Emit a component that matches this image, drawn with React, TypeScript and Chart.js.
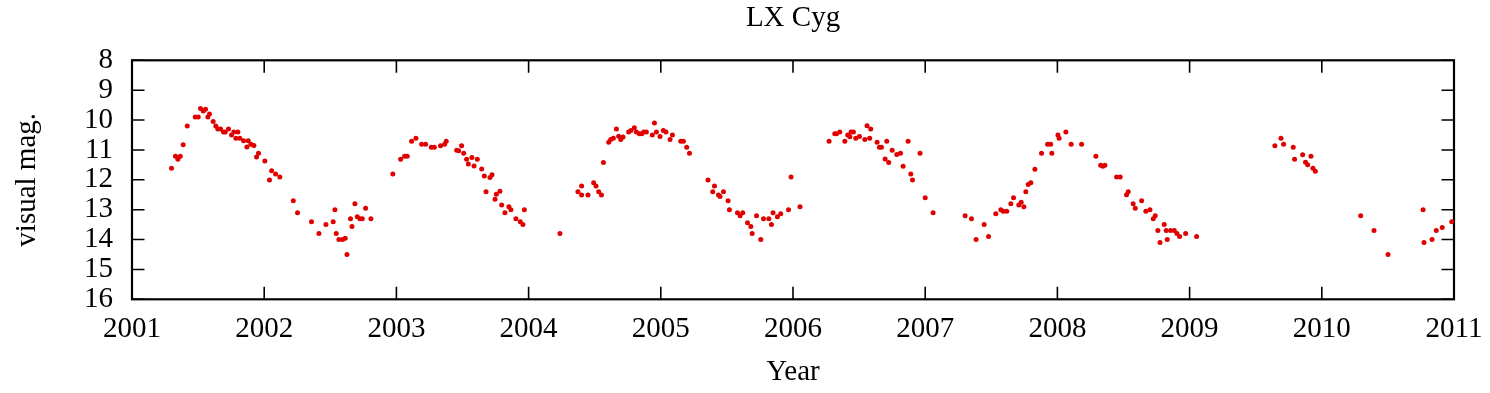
import React, { useEffect, useRef } from "react";
import { Chart, registerables } from "chart.js";

Chart.register(...registerables);

const chartTitle = "LX Cyg";
const xAxisTitle = "Year";
const yAxisTitle = "visual mag.";

const yearTicks = [2001, 2002, 2003, 2004, 2005, 2006, 2007, 2008, 2009, 2010, 2011];
const magTicks = [8, 9, 10, 11, 12, 13, 14, 15, 16];

// observation dates (decimal years)
const obsYears = [
  2001.299, 2001.329, 2001.347, 2001.365, 2001.387, 2001.418, 2001.478, 2001.501, 2001.518, 2001.539,
  2001.556, 2001.574, 2001.586, 2001.614, 2001.634, 2001.649, 2001.670, 2001.692, 2001.705, 2001.730,
  2001.753, 2001.770, 2001.786, 2001.801, 2001.816, 2001.844, 2001.869, 2001.879, 2001.899, 2001.922,
  2001.942, 2001.957, 2002.005, 2002.040, 2002.056, 2002.086, 2002.118, 2002.220, 2002.252, 2002.358,
  2002.414, 2002.467, 2002.522, 2002.535, 2002.545, 2002.565, 2002.593, 2002.613, 2002.626, 2002.653,
  2002.664, 2002.686, 2002.704, 2002.724, 2002.742, 2002.767, 2002.807, 2002.973, 2003.032, 2003.062,
  2003.082, 2003.115, 2003.148, 2003.191, 2003.221, 2003.264, 2003.287, 2003.334, 2003.365, 2003.377,
  2003.456, 2003.471, 2003.493, 2003.509, 2003.531, 2003.544, 2003.571, 2003.587, 2003.612, 2003.645,
  2003.665, 2003.678, 2003.708, 2003.723, 2003.746, 2003.756, 2003.783, 2003.796, 2003.821, 2003.851,
  2003.866, 2003.904, 2003.937, 2003.957, 2003.968, 2004.237, 2004.373, 2004.401, 2004.401, 2004.449,
  2004.492, 2004.510, 2004.530, 2004.551, 2004.566, 2004.606, 2004.621, 2004.641, 2004.664, 2004.681,
  2004.697, 2004.714, 2004.757, 2004.774, 2004.800, 2004.815, 2004.838, 2004.856, 2004.871, 2004.891,
  2004.936, 2004.952, 2004.967, 2004.994, 2005.019, 2005.039, 2005.070, 2005.088, 2005.151, 2005.171,
  2005.196, 2005.217, 2005.357, 2005.393, 2005.406, 2005.436, 2005.448, 2005.474, 2005.509, 2005.519,
  2005.580, 2005.600, 2005.620, 2005.656, 2005.681, 2005.691, 2005.724, 2005.756, 2005.777, 2005.817,
  2005.837, 2005.849, 2005.882, 2005.907, 2005.966, 2005.985, 2006.053, 2006.273, 2006.316, 2006.329,
  2006.354, 2006.392, 2006.414, 2006.430, 2006.439, 2006.457, 2006.475, 2006.503, 2006.543, 2006.560,
  2006.580, 2006.588, 2006.636, 2006.654, 2006.669, 2006.697, 2006.709, 2006.724, 2006.750, 2006.785,
  2006.813, 2006.833, 2006.871, 2006.891, 2006.904, 2006.961, 2007.000, 2007.060, 2007.302, 2007.350,
  2007.385, 2007.446, 2007.479, 2007.534, 2007.572, 2007.590, 2007.617, 2007.648, 2007.668, 2007.708,
  2007.726, 2007.746, 2007.761, 2007.779, 2007.799, 2007.830, 2007.880, 2007.926, 2007.949, 2007.958,
  2008.004, 2008.013, 2008.064, 2008.104, 2008.183, 2008.291, 2008.327, 2008.344, 2008.359, 2008.448,
  2008.475, 2008.523, 2008.536, 2008.573, 2008.589, 2008.637, 2008.669, 2008.700, 2008.725, 2008.740,
  2008.760, 2008.776, 2008.808, 2008.823, 2008.831, 2008.856, 2008.884, 2008.904, 2008.924, 2008.970,
  2009.053, 2009.645, 2009.691, 2009.711, 2009.784, 2009.794, 2009.855, 2009.877, 2009.893, 2009.918,
  2009.933, 2009.951, 2010.294, 2010.395, 2010.501, 2010.766, 2010.773, 2010.834, 2010.866, 2010.911,
  2010.983,
];

// visual magnitudes, one per date above
const obsMags = [
  11.61, 11.21, 11.31, 11.21, 10.83, 10.20, 9.90, 9.90, 9.61, 9.70,
  9.64, 9.90, 9.80, 10.05, 10.20, 10.30, 10.30, 10.40, 10.40, 10.30,
  10.50, 10.40, 10.61, 10.40, 10.61, 10.69, 10.90, 10.69, 10.81, 10.85,
  11.24, 11.11, 11.37, 12.01, 11.70, 11.81, 11.91, 12.70, 13.10, 13.40,
  13.80, 13.50, 13.40, 13.00, 13.80, 14.00, 14.00, 13.96, 14.50, 13.30,
  13.56, 12.80, 13.24, 13.30, 13.30, 12.95, 13.30, 11.81, 11.31, 11.21,
  11.21, 10.71, 10.61, 10.81, 10.81, 10.91, 10.91, 10.86, 10.81, 10.71,
  11.01, 11.03, 10.86, 11.11, 11.31, 11.47, 11.25, 11.54, 11.31, 11.64,
  11.87, 12.40, 11.92, 11.83, 12.65, 12.48, 12.38, 12.84, 13.10, 12.90,
  13.00, 13.30, 13.40, 13.50, 13.00, 13.80, 12.40, 12.21, 12.51, 12.51,
  12.10, 12.21, 12.40, 12.51, 11.42, 10.74, 10.65, 10.61, 10.30, 10.54,
  10.65, 10.57, 10.40, 10.35, 10.26, 10.40, 10.46, 10.46, 10.40, 10.40,
  10.50, 10.10, 10.40, 10.55, 10.35, 10.40, 10.65, 10.50, 10.71, 10.71,
  10.91, 11.11, 12.01, 12.40, 12.21, 12.51, 12.56, 12.40, 12.70, 13.00,
  13.10, 13.20, 13.10, 13.44, 13.56, 13.80, 13.20, 14.00, 13.30, 13.30,
  13.50, 13.10, 13.24, 13.14, 13.00, 11.91, 12.90, 10.71, 10.46, 10.46,
  10.40, 10.71, 10.50, 10.56, 10.40, 10.40, 10.61, 10.55, 10.65, 10.19,
  10.61, 10.30, 10.74, 10.91, 10.91, 11.30, 10.71, 11.42, 11.01, 11.15,
  11.11, 11.55, 10.71, 11.81, 12.01, 11.11, 12.60, 13.10, 13.20, 13.30,
  14.00, 13.50, 13.90, 13.14, 13.00, 13.05, 13.05, 12.80, 12.60, 12.84,
  12.75, 12.90, 12.40, 12.16, 12.10, 11.65, 11.11, 10.81, 10.81, 11.11,
  10.50, 10.61, 10.40, 10.81, 10.81, 11.21, 11.51, 11.55, 11.51, 11.91,
  11.91, 12.50, 12.40, 12.80, 12.95, 12.70, 13.05, 13.00, 13.30, 13.20,
  13.70, 14.10, 13.50, 13.70, 14.00, 13.70, 13.70, 13.80, 13.90, 13.80,
  13.90, 10.86, 10.61, 10.81, 10.91, 11.31, 11.16, 11.41, 11.50, 11.21,
  11.61, 11.71, 13.20, 13.70, 14.50, 13.00, 14.10, 14.00, 13.70, 13.60,
  13.40,
];

const FONT = "'Liberation Serif', 'Times New Roman', serif";
const FS = 29;
const W = 1490;
const H = 393;

const frameTicks = {
  id: "frameTicks",
  beforeDatasetsDraw(chart: any) {
    const { ctx, chartArea, scales } = chart;
    const { left, right, top, bottom } = chartArea;
    const xs = scales.x;
    const ys = scales.y;
    const len = 12.5;
    ctx.save();
    ctx.strokeStyle = "#000";
    ctx.lineWidth = 1.6;
    ctx.beginPath();
    for (const v of yearTicks) {
      const px = xs.getPixelForValue(v);
      ctx.moveTo(px, bottom);
      ctx.lineTo(px, bottom - len);
      ctx.moveTo(px, top);
      ctx.lineTo(px, top + len);
    }
    for (const m of magTicks) {
      const py = ys.getPixelForValue(m);
      ctx.moveTo(left, py);
      ctx.lineTo(left + len, py);
      ctx.moveTo(right, py);
      ctx.lineTo(right - len, py);
    }
    ctx.stroke();
    ctx.lineWidth = 2.2;
    ctx.strokeRect(left, top, right - left, bottom - top);
    ctx.restore();
  },
};

export default function App() {
  const canvasRef = useRef<HTMLCanvasElement | null>(null);

  useEffect(() => {
    const canvas = canvasRef.current;
    if (!canvas) return;
    const points = obsYears.map((yr, i) => ({ x: yr, y: obsMags[i] }));
    const chart = new Chart(canvas, {
      type: "scatter",
      data: {
        datasets: [
          {
            label: chartTitle,
            data: points,
            backgroundColor: "rgb(224,0,0)",
            borderWidth: 0,
            pointRadius: 2.5,
            pointHoverRadius: 2.5,
          },
        ],
      },
      options: {
        responsive: false,
        animation: false,
        devicePixelRatio: 1,
        layout: { padding: { left: 0, right: 36, top: 0, bottom: 0 } },
        plugins: {
          legend: { display: false },
          tooltip: { enabled: false },
          title: {
            display: true,
            text: chartTitle,
            fullSize: false,
            color: "#000",
            font: { family: FONT, size: FS, weight: "normal" },
            padding: { top: 1.1, bottom: 24.4 },
          },
        },
        scales: {
          x: {
            type: "linear",
            min: 2001,
            max: 2011,
            afterBuildTicks: (scale: any) => {
              scale.ticks = yearTicks.map((v) => ({ value: v }));
            },
            afterFit: (scale: any) => {
              scale.height = H - 299.3;
              scale.paddingLeft = 0;
              scale.paddingRight = 0;
            },
            grid: { display: false, drawTicks: false },
            border: { display: false },
            ticks: {
              color: "#000",
              padding: 12.5,
              maxRotation: 0,
              autoSkip: false,
              font: { family: FONT, size: FS },
              callback: (v: any) => String(v),
            },
            title: {
              display: true,
              text: xAxisTitle,
              color: "#000",
              font: { family: FONT, size: FS },
              padding: { top: 0, bottom: 2.9 },
            },
          },
          y: {
            type: "linear",
            reverse: true,
            min: 8,
            max: 16,
            afterBuildTicks: (scale: any) => {
              scale.ticks = magTicks.map((v) => ({ value: v }));
            },
            afterFit: (scale: any) => {
              scale.width = 132;
              scale.paddingTop = 0;
              scale.paddingBottom = 0;
            },
            grid: { display: false, drawTicks: false },
            border: { display: false },
            ticks: {
              color: "#000",
              padding: 19,
              autoSkip: false,
              font: { family: FONT, size: FS },
              callback: (v: any) => String(v),
            },
            title: {
              display: true,
              text: yAxisTitle,
              color: "#000",
              font: { family: FONT, size: FS },
              padding: { top: 10.2, bottom: 0 },
            },
          },
        },
      },
      plugins: [frameTicks],
    });
    return () => chart.destroy();
  }, []);

  return (
    <div style={{ position: "absolute", left: 0, top: 0, width: W, height: H, background: "#fff" }}>
      <canvas ref={canvasRef} width={W} height={H} style={{ display: "block", width: W, height: H }} />
    </div>
  );
}
